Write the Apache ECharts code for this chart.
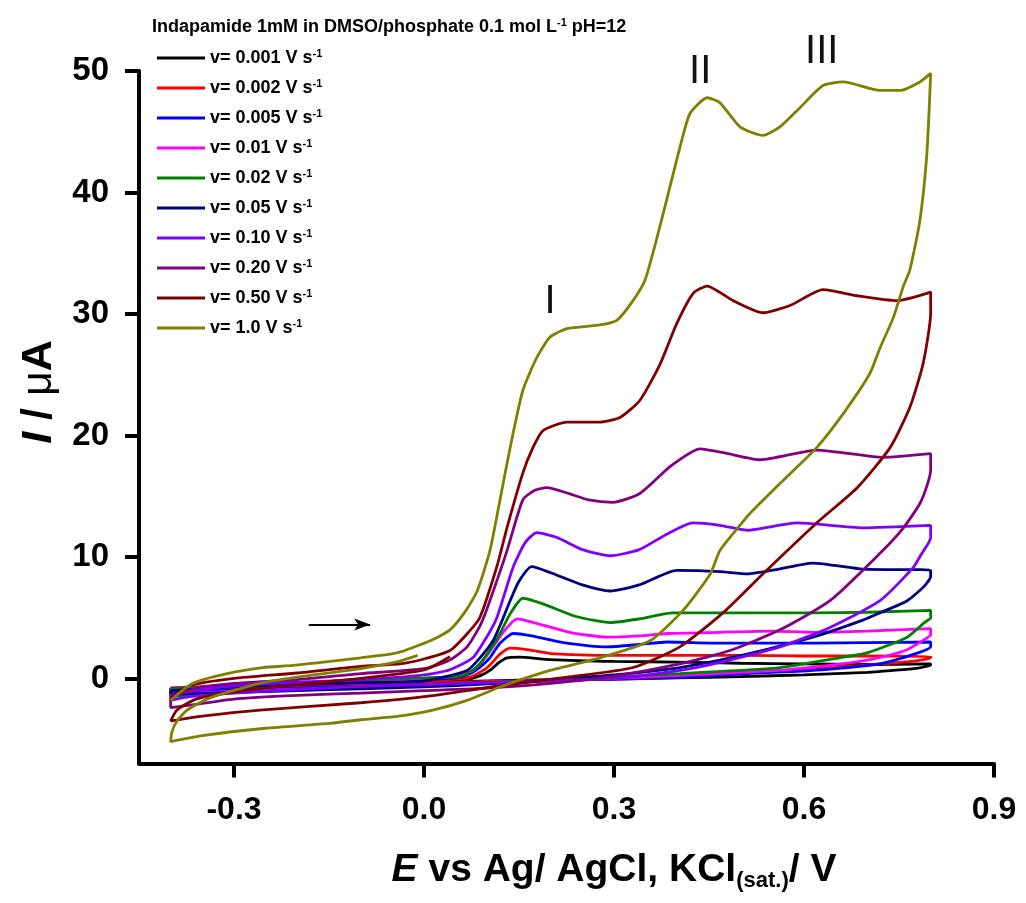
<!DOCTYPE html>
<html><head><meta charset="utf-8">
<script src="https://cdn.jsdelivr.net/npm/echarts@6/dist/echarts.min.js"></script>
<style>html,body{margin:0;padding:0;background:#fff}#c{width:1026px;height:903px}</style>
</head><body><div id="c"></div>
<script>
// ---- data (E / V, I / uA) ----
const speeds = ['0.001','0.002','0.005','0.01','0.02','0.05','0.10','0.20','0.50','1.0'];
const colors = ['#000000','#ff0000','#0000ff','#ff00ff','#008000','#000080','#8000ff','#800080','#800000','#808000'];
const xTicks = [-0.3, 0.0, 0.3, 0.6, 0.9];
const yTicks = [0, 10, 20, 30, 40, 50];

const fwd0001 = [[-0.4,-0.8],[-0.3,-0.6],[-0.2,-0.45],[-0.1,-0.3],[0.0,-0.2],[0.05,-0.15],[0.07,-0.05],[0.09,0.25],[0.105,0.7],[0.118,1.3],[0.131,1.7],[0.15,1.75],[0.2,1.55],[0.3,1.4],[0.4,1.35],[0.5,1.25],[0.6,1.2],[0.7,1.15],[0.8,1.2]];
const rev0001 = [[0.8,1.1],[0.78,0.85],[0.75,0.7],[0.7,0.5],[0.6,0.3],[0.5,0.15],[0.4,0.05],[0.3,-0.05],[0.2,-0.1],[0.1,-0.2],[0.0,-0.35],[-0.1,-0.5],[-0.2,-0.65],[-0.3,-0.8],[-0.4,-1.0],[-0.4,-0.8]];

const fwd0002 = [[-0.4,-0.8],[-0.3,-0.6],[-0.2,-0.45],[-0.1,-0.3],[0.0,-0.15],[0.05,-0.05],[0.075,0.15],[0.1,0.9],[0.12,2.0],[0.136,2.5],[0.16,2.4],[0.2,2.05],[0.3,1.9],[0.4,1.9],[0.5,1.9],[0.6,1.85],[0.7,1.85],[0.8,1.8]];
const rev0002 = [[0.8,1.7],[0.77,1.4],[0.72,1.2],[0.65,0.9],[0.56,0.65],[0.4,0.1],[0.3,-0.05],[0.2,-0.15],[0.1,-0.25],[0.0,-0.4],[-0.1,-0.55],[-0.2,-0.7],[-0.3,-0.85],[-0.4,-1.05],[-0.4,-0.8]];

const fwd0005 = [[-0.4,-0.85],[-0.3,-0.6],[-0.2,-0.45],[-0.1,-0.3],[0.0,-0.1],[0.05,0.05],[0.073,0.4],[0.09,1.0],[0.104,1.7],[0.12,2.9],[0.141,3.7],[0.17,3.5],[0.22,2.95],[0.289,2.6],[0.34,2.8],[0.384,3.0],[0.467,2.9],[0.55,2.9],[0.614,2.9],[0.7,2.95],[0.8,3.0]];
const rev0005 = [[0.8,2.6],[0.78,2.1],[0.72,1.2],[0.614,0.66],[0.51,0.4],[0.404,0.1],[0.3,-0.05],[0.2,-0.2],[0.1,-0.35],[0.0,-0.5],[-0.1,-0.65],[-0.2,-0.8],[-0.3,-0.95],[-0.4,-1.1],[-0.4,-0.85]];

const fwd001 = [[-0.4,-0.9],[-0.3,-0.6],[-0.2,-0.4],[-0.1,-0.25],[0.0,0.0],[0.05,0.2],[0.077,0.66],[0.095,1.6],[0.109,2.6],[0.125,3.8],[0.147,4.9],[0.18,4.5],[0.23,3.8],[0.289,3.4],[0.34,3.5],[0.384,3.7],[0.467,3.8],[0.55,3.9],[0.614,3.8],[0.7,3.9],[0.8,4.1]];
const rev001 = [[0.8,3.6],[0.79,3.2],[0.76,2.3],[0.7,1.5],[0.66,1.2],[0.56,0.66],[0.404,0.25],[0.3,0.0],[0.2,-0.2],[0.1,-0.4],[0.0,-0.6],[-0.1,-0.75],[-0.2,-0.9],[-0.3,-1.05],[-0.4,-1.3],[-0.4,-0.9]];

const fwd002 = [[-0.4,-0.9],[-0.3,-0.55],[-0.2,-0.35],[-0.1,-0.15],[0.0,0.05],[0.057,0.2],[0.075,0.6],[0.088,1.2],[0.105,2.4],[0.12,3.7],[0.137,5.4],[0.156,6.6],[0.19,6.1],[0.24,5.1],[0.294,4.6],[0.34,4.9],[0.393,5.4],[0.467,5.4],[0.55,5.4],[0.614,5.4],[0.7,5.45],[0.8,5.6]];
const rev002 = [[0.8,5.0],[0.79,4.6],[0.763,3.4],[0.7,2.1],[0.668,1.8],[0.562,0.9],[0.404,0.4],[0.3,0.1],[0.2,-0.15],[0.1,-0.35],[0.0,-0.55],[-0.1,-0.75],[-0.2,-0.95],[-0.3,-1.15],[-0.4,-1.5],[-0.4,-0.9]];

const fwd005 = [[-0.4,-1.0],[-0.3,-0.7],[-0.2,-0.5],[-0.1,-0.35],[0.0,-0.2],[0.068,0.66],[0.09,1.8],[0.109,3.1],[0.122,4.6],[0.136,6.4],[0.15,8.0],[0.17,9.2],[0.2,8.7],[0.25,7.7],[0.294,7.2],[0.34,7.7],[0.399,8.9],[0.467,8.8],[0.51,8.6],[0.56,9.0],[0.614,9.5],[0.693,9.0],[0.8,8.9]];
const rev005 = [[0.8,8.4],[0.79,7.6],[0.763,6.4],[0.72,5.4],[0.693,4.8],[0.614,3.4],[0.51,2.0],[0.404,0.9],[0.3,0.3],[0.2,-0.1],[0.1,-0.45],[0.0,-0.7],[-0.1,-0.85],[-0.2,-1.0],[-0.3,-1.15],[-0.4,-1.3],[-0.4,-1.0]];

const fwd010 = [[-0.4,-1.4],[-0.35,-0.9],[-0.3,-0.6],[-0.2,-0.3],[-0.1,-0.1],[0.0,0.3],[0.04,0.7],[0.077,1.7],[0.1,3.5],[0.115,5.0],[0.141,9.2],[0.16,11.2],[0.178,12.0],[0.21,11.6],[0.25,10.6],[0.294,10.1],[0.34,10.6],[0.384,11.9],[0.425,12.8],[0.467,12.6],[0.51,12.2],[0.589,12.8],[0.693,12.4],[0.8,12.6]];
const rev010 = [[0.8,11.6],[0.785,10.2],[0.772,9.1],[0.72,6.4],[0.641,4.2],[0.562,2.6],[0.457,1.2],[0.404,0.66],[0.3,0.0],[0.2,-0.2],[0.1,-0.35],[0.0,-0.5],[-0.1,-0.65],[-0.2,-0.9],[-0.3,-1.2],[-0.37,-1.5],[-0.4,-1.8],[-0.4,-1.4]];

const fwd020 = [[-0.4,-1.6],[-0.36,-0.8],[-0.3,-0.4],[-0.2,-0.1],[-0.1,0.4],[0.0,0.8],[0.04,1.5],[0.068,2.6],[0.09,4.5],[0.104,6.4],[0.131,10.5],[0.156,14.7],[0.175,15.5],[0.194,15.7],[0.23,15.2],[0.26,14.7],[0.298,14.5],[0.34,15.2],[0.39,17.5],[0.436,18.9],[0.48,18.5],[0.531,18.0],[0.62,18.8],[0.725,18.2],[0.8,18.5]];
const rev020 = [[0.8,17.2],[0.795,16.0],[0.783,14.4],[0.757,12.4],[0.72,10.3],[0.641,6.4],[0.562,4.0],[0.483,2.3],[0.404,1.2],[0.3,0.2],[0.2,-0.4],[0.1,-0.8],[0.0,-1.0],[-0.1,-1.2],[-0.2,-1.4],[-0.3,-1.7],[-0.37,-2.2],[-0.4,-2.4],[-0.4,-1.6]];

const fwd050 = [[-0.4,-1.6],[-0.37,-0.6],[-0.3,0.0],[-0.2,0.45],[-0.1,1.0],[-0.038,1.2],[0.0,1.6],[0.041,2.3],[0.065,3.5],[0.088,5.0],[0.115,9.2],[0.131,12.4],[0.156,16.9],[0.172,19.0],[0.188,20.4],[0.226,21.1],[0.278,21.1],[0.31,21.5],[0.341,22.9],[0.373,25.9],[0.399,29.2],[0.425,31.7],[0.447,32.3],[0.488,31.1],[0.535,30.1],[0.578,30.7],[0.63,32.0],[0.684,31.5],[0.747,31.1],[0.8,31.8]];
const rev050 = [[0.8,30.1],[0.788,25.9],[0.767,22.3],[0.736,19.0],[0.684,15.7],[0.62,12.8],[0.535,8.6],[0.472,5.4],[0.404,2.6],[0.33,0.9],[0.226,0.1],[0.12,-0.6],[0.0,-1.5],[-0.1,-2.0],[-0.259,-2.6],[-0.35,-3.1],[-0.4,-3.5]];
const ret050 = [[-0.4,-3.5],[-0.39,-2.6],[-0.36,-1.7],[-0.3,-1.1],[-0.2,-0.5],[-0.1,0.0],[0.0,0.7],[0.041,1.8]];

const fwd100 = [[-0.4,-1.8],[-0.365,-0.4],[-0.311,0.4],[-0.254,0.9],[-0.207,1.07],[-0.148,1.4],[-0.1,1.7],[-0.043,2.1],[0.01,3.1],[0.041,4.0],[0.065,5.5],[0.084,7.2],[0.104,10.5],[0.12,14.7],[0.136,19.0],[0.156,23.7],[0.178,26.4],[0.199,28.1],[0.226,28.8],[0.278,29.1],[0.305,29.5],[0.33,31.1],[0.349,32.8],[0.368,36.3],[0.388,40.4],[0.404,43.7],[0.42,46.5],[0.447,47.8],[0.467,47.4],[0.499,45.4],[0.535,44.7],[0.562,45.4],[0.594,47.0],[0.63,48.8],[0.662,49.1],[0.72,48.4],[0.752,48.4],[0.783,49.1],[0.8,49.8]];
const rev100 = [[0.794,43.2],[0.783,37.7],[0.767,33.6],[0.757,32.3],[0.741,29.7],[0.72,27.2],[0.704,25.1],[0.662,21.8],[0.62,19.0],[0.567,16.3],[0.515,13.6],[0.494,12.3],[0.467,10.5],[0.452,8.6],[0.409,5.6],[0.357,3.1],[0.278,1.7],[0.199,0.66],[0.12,-0.7],[0.068,-1.8],[0.014,-2.6],[-0.04,-3.1],[-0.1,-3.4],[-0.15,-3.7],[-0.25,-4.1],[-0.35,-4.7],[-0.4,-5.2]];
const ret100 = [[-0.4,-5.2],[-0.398,-4.4],[-0.39,-3.5],[-0.374,-2.6],[-0.338,-1.6],[-0.259,-0.4],[-0.18,0.25],[-0.1,0.8],[-0.04,1.4],[-0.01,1.9]];

const loops = [
  fwd0001.concat(rev0001), fwd0002.concat(rev0002), fwd0005.concat(rev0005),
  fwd001.concat(rev001), fwd002.concat(rev002), fwd005.concat(rev005),
  fwd010.concat(rev010), fwd020.concat(rev020),
  fwd050.concat(rev050, ret050), fwd100.concat(rev100, ret100)
];

// annotations in data coordinates
const arrowFrom = [-0.182, 4.45];
const arrowTo = [-0.085, 4.45];
const peakNames = ['I', 'II', 'III'];
const peakPos = [[0.199, 31.0], [0.436, 49.9], [0.628, 51.6]];

const FONT = '"Liberation Sans", Arial, Helvetica, sans-serif';
const names = speeds.map(s => 'v= ' + s + ' V s-1');

const chart = echarts.init(document.getElementById('c'), null, {renderer: 'canvas'});

const series = speeds.map((s, i) => ({
  name: names[i], type: 'line', data: loops[i],
  showSymbol: false, symbol: 'none', smooth: 0.2,
  lineStyle: {color: colors[i], width: 2.8},
  itemStyle: {color: colors[i]},
  emphasis: {disabled: true},
  animation: false, z: 2 + i
}));
series[0].markLine = {
  silent: true, animation: false, symbol: ['none', 'arrow'], symbolSize: [9, 16],
  lineStyle: {color: '#000', width: 1.8, type: 'solid'}, label: {show: false},
  data: [[{coord: arrowFrom}, {coord: arrowTo}]]
};

chart.setOption({
  animation: false,
  backgroundColor: '#fff',
  grid: {left: 139, right: 32, top: 71, bottom: 139.5, containLabel: false},
  xAxis: {
    type: 'value', min: -0.45, max: 0.9,
    splitLine: {show: false},
    axisLine: {show: true, onZero: false, lineStyle: {color: '#000', width: 4}},
    axisTick: {show: true, inside: false, length: 14, customValues: xTicks, lineStyle: {color: '#000', width: 4}},
    axisLabel: {customValues: xTicks, formatter: v => Number(v).toFixed(1), fontFamily: FONT, fontSize: 32, fontWeight: 'bold', color: '#000', margin: 31, showMinLabel: true, showMaxLabel: true}
  },
  yAxis: {
    type: 'value', min: -7, max: 50,
    splitLine: {show: false},
    axisLine: {show: true, onZero: false, lineStyle: {color: '#000', width: 4}},
    axisTick: {show: true, inside: false, length: 14, customValues: yTicks, lineStyle: {color: '#000', width: 4}},
    axisLabel: {customValues: yTicks, formatter: v => String(Math.round(v)), fontFamily: FONT, fontSize: 33, fontWeight: 'bold', color: '#000', margin: 30, showMinLabel: true, showMaxLabel: true}
  },
  legend: {
    orient: 'vertical', left: 152, top: 43, itemWidth: 48, itemHeight: 3, itemGap: 10,
    icon: 'rect', data: names, selectedMode: false,
    formatter: n => n.replace(' s-1', ' s{sup|-1}'),
    textStyle: {fontFamily: FONT, fontSize: 18, fontWeight: 'bold', color: '#000', lineHeight: 20,
      rich: {sup: {fontFamily: FONT, fontSize: 11, fontWeight: 'bold', color: '#000', verticalAlign: 'top', lineHeight: 8}}}
  },
  series: series
});

const peakGraphics = peakNames.map((t, i) => {
  const p = chart.convertToPixel({gridIndex: 0}, peakPos[i]);
  return {type: 'text', id: 'peak' + i, x: p[0], y: p[1], z: 100,
    style: {text: t, fill: '#111', font: 'normal 40px ' + FONT, align: 'center', verticalAlign: 'middle', textAlign: 'center', textVerticalAlign: 'middle'}};
});

chart.setOption({
  graphic: [
    {type: 'text', id: 'ltitle', left: 152, top: 17, z: 100,
      style: {text: '{n|Indapamide 1mM in DMSO/phosphate 0.1 mol L}{s|-1}{n| pH=12}', fill: '#000',
        rich: {n: {fontFamily: FONT, fontSize: 18, fontWeight: 'bold', color: '#000', lineHeight: 20},
               s: {fontFamily: FONT, fontSize: 11, fontWeight: 'bold', color: '#000', lineHeight: 8, verticalAlign: 'top'}}}},
    {type: 'text', id: 'xtitle', x: 614, y: 870, z: 100,
      style: {text: '{i|E}{n| vs Ag/ AgCl, KCl}{sub|(sat.)}{n|/ V}', fill: '#000', align: 'center', verticalAlign: 'middle', textAlign: 'center', textVerticalAlign: 'middle',
        rich: {i: {fontFamily: FONT, fontSize: 39, fontWeight: 'bold', fontStyle: 'italic', color: '#000', lineHeight: 44},
               n: {fontFamily: FONT, fontSize: 39, fontWeight: 'bold', color: '#000', lineHeight: 44},
               sub: {fontFamily: FONT, fontSize: 22, fontWeight: 'bold', color: '#000', lineHeight: 10, verticalAlign: 'bottom'}}}},
    {type: 'text', id: 'ytitle', x: 39, y: 392, rotation: Math.PI / 2, z: 100,
      style: {text: '{i|I}{n| / }{m|μ}{n|A}', fill: '#000', align: 'center', verticalAlign: 'middle', textAlign: 'center', textVerticalAlign: 'middle',
        rich: {i: {fontFamily: FONT, fontSize: 43, fontWeight: 'bold', fontStyle: 'italic', color: '#000', lineHeight: 46},
               n: {fontFamily: FONT, fontSize: 43, fontWeight: 'bold', color: '#000', lineHeight: 46},
               m: {fontFamily: FONT, fontSize: 43, fontWeight: 'normal', color: '#000', lineHeight: 46}}}}
  ].concat(peakGraphics)
});
</script></body></html>
